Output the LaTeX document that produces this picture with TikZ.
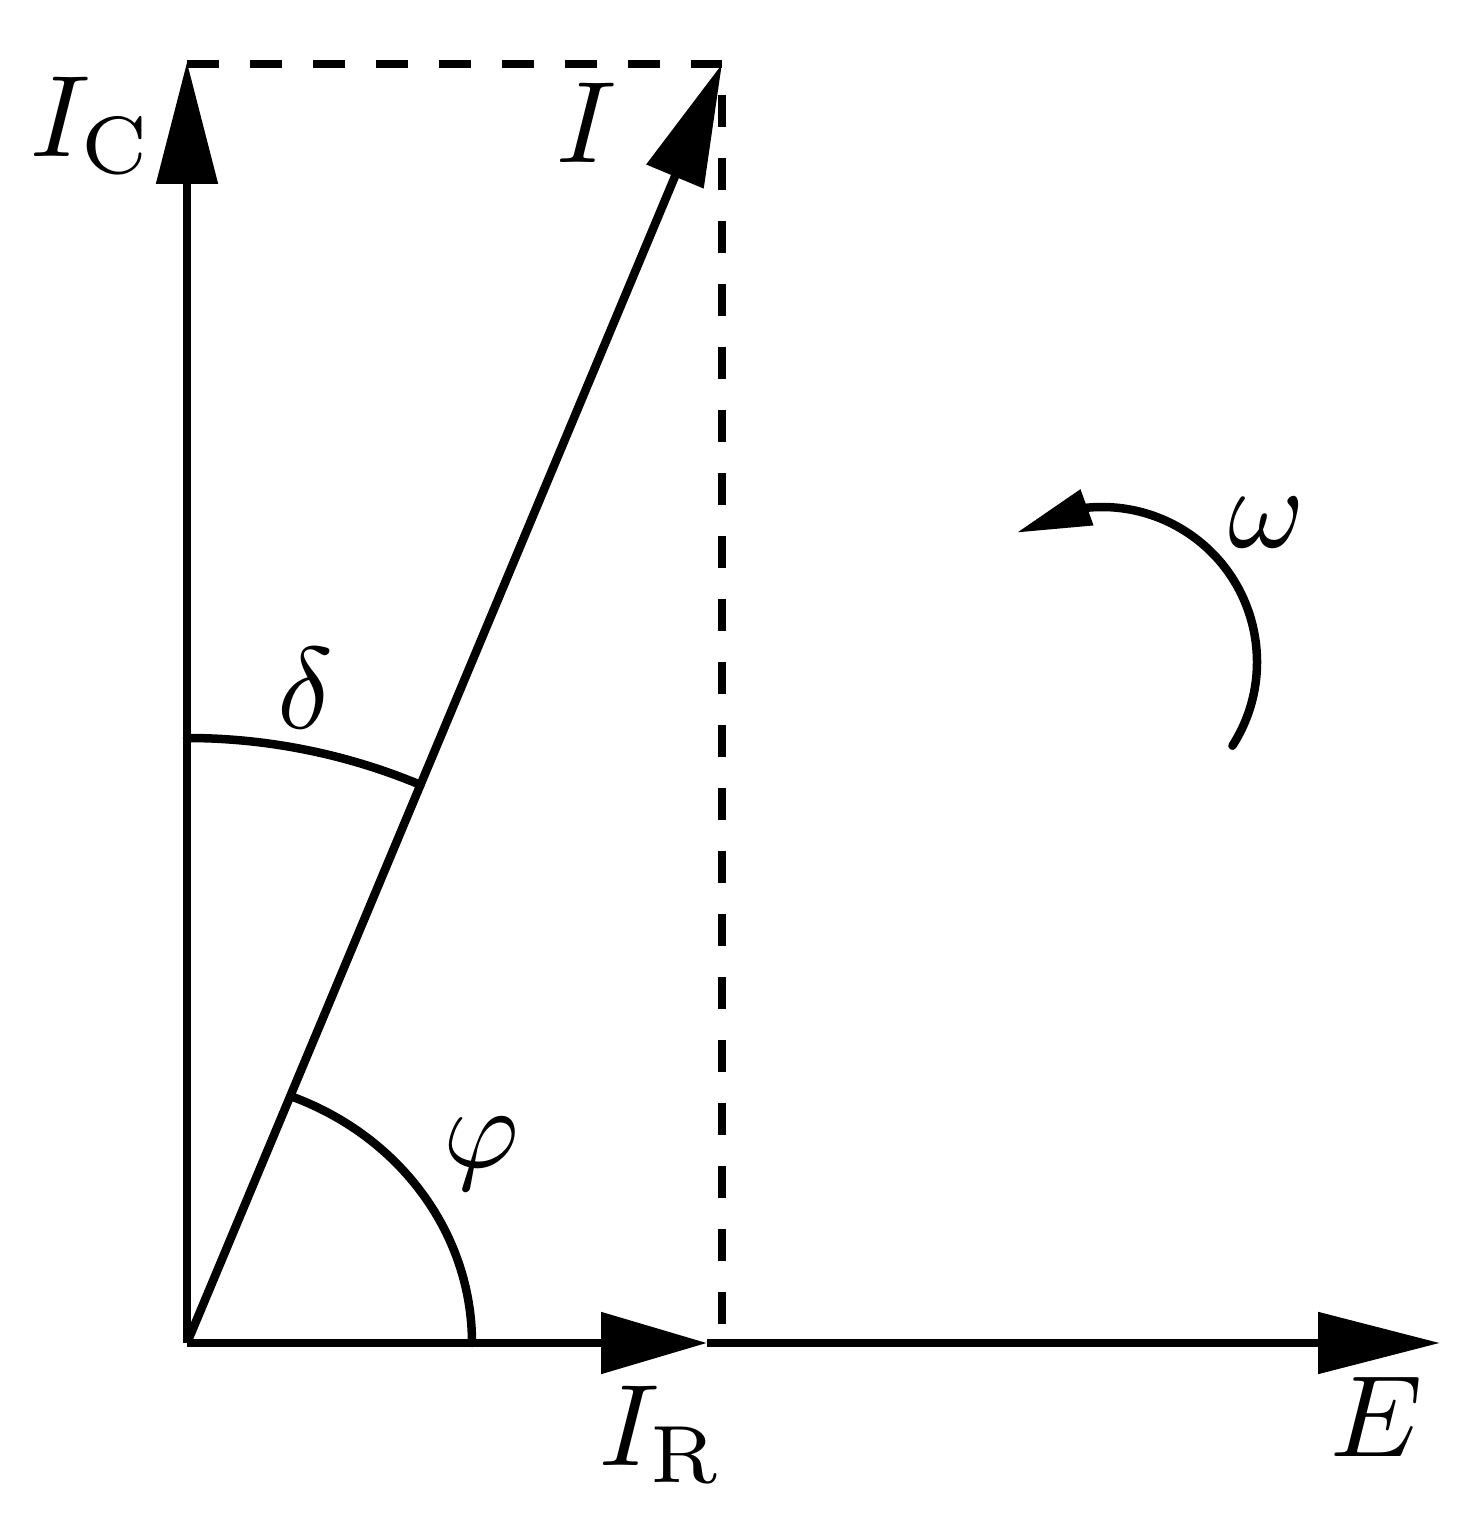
\documentclass[tikz,border=0pt]{standalone}
\usetikzlibrary{arrows.meta,bending}
\begin{document}
\begin{tikzpicture}[
  vec/.style={line width=0.085cm, -{Triangle[length=1.22cm,width=0.6cm]}},
  shortvec/.style={line width=0.085cm, -{Triangle[length=1.06cm,width=0.6cm]}},
  thin line/.style={line width=0.085cm, line cap=round},
  dashline/.style={line width=0.08cm, dash pattern=on 0.32cm off 0.31cm},
  lbl/.style={inner sep=0pt, scale=3.3}
]
\useasboundingbox (-1.87,-1.75) rectangle (12.78,13.43);
\fill[white] (-1.87,-1.75) rectangle (12.78,13.43);

% key points
\coordinate (O) at (0,0);
\coordinate (ICtip) at (0,12.81);
\coordinate (Top) at (0,12.79);
\coordinate (P) at (5.35,12.79);
\coordinate (Pfoot) at (5.35,0);
\coordinate (IRtip) at (5.20,0);
\coordinate (Etip) at (12.53,0);
\coordinate (W) at (9.15,6.81);

% dashed projections
\draw[dashline] (Top) -- (P);
\draw[dashline, dash phase=0.32cm] (P) -- (Pfoot);

% vectors
\draw[vec, line join=round] (O) -- (ICtip);
\draw[vec, line join=round] (O) -- (P);
\draw[shortvec, line join=round] (O) -- (IRtip);
\draw[vec] (IRtip) -- (Etip);

% angle arcs
\draw[thin line] (0,6.05) arc[start angle=90, end angle=67.3, radius=6.05];
\draw[thin line] (2.85,0) arc[start angle=0, end angle=68.75, x radius=2.85, y radius=2.65];

% rotation arrow
\draw[line width=0.085cm, line cap=round, -{Triangle[length=0.75cm,width=0.36cm,flex]}]
  (W) ++(-32.7:1.55) arc[start angle=-32.7, end angle=123.5, radius=1.55];

% labels
\node[lbl] (lIC) at (-0.95,12.175) {$I_{\mathrm{C}}$};
\node[lbl] (lI) at (4.00,12.205) {$I$};
\node[lbl] (lIR) at (4.75,-0.915) {$I_{\mathrm{R}}$};
\node[lbl] (lE) at (11.90,-0.74) {$E$};
\node[lbl] (ld) at (1.18,6.55) {$\delta$};
\node[lbl] (lp) at (2.94,1.89) {$\varphi$};
\node[lbl] (lw) at (10.80,8.20) {$\omega$};
\end{tikzpicture}
\end{document}
